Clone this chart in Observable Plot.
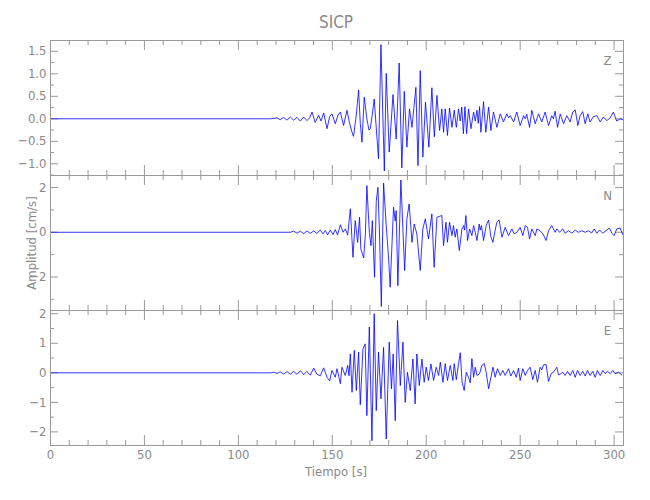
<!DOCTYPE html>
<html>
<head>
<meta charset="utf-8">
<script src="https://cdn.jsdelivr.net/npm/d3@7"></script>
<script src="https://cdn.jsdelivr.net/npm/@observablehq/plot@0.6"></script>
<style>
  html, body { margin: 0; padding: 0; background: #fff; }
  #chart { position: relative; width: 650px; height: 500px; font-family: "Liberation Sans Narrow", "DejaVu Sans Condensed", sans-serif; color: #8a8a8a; }
  .lbl { position: absolute; white-space: nowrap; }
</style>
</head>
<body>
<div id="chart"></div>
<script>
// ---------- data ----------
const stationName = "SICP";
const xTitle = "Tiempo [s]";
const yTitle = "Amplitud [cm/s]";
const componentNames = ["Z", "N", "E"];

const xMajorTicks = [0, 50, 100, 150, 200, 250, 300];
const xMinorTicks = [10, 20, 30, 40, 60, 70, 80, 90, 110, 120, 130, 140, 160, 170, 180, 190, 210, 220, 230, 240, 260, 270, 280, 290];

const zMajorTicks = [-1, -0.5, 0, 0.5, 1, 1.5];
const zMinorTicks = [-1.25, -0.75, -0.25, 0.25, 0.75, 1.25];
const nMajorTicks = [-2, 0, 2];
const nMinorTicks = [-3, -1, 1];
const eMajorTicks = [-2, -1, 0, 1, 2];
const eMinorTicks = [-1.5, -0.5, 0.5, 1.5];

const zTime = [0,117,120.6,122.3,124.1,125.9,127.7,129.4,131.2,133,134.8,136.5,137.9,139.2,140.9,142.7,144,145.4,147.2,148.6,149.8,151.6,153,154.3,156,157.8,159.2,160.5,161.3,162.8,164,164.9,165.8,167,168.4,169.5,170.2,171.3,172.3,173.4,174.6,175.9,177.7,178.7,180.3,182.3,184,185.6,187,188.3,189.7,191.1,192.4,194.5,195.6,196.8,198.2,199.6,201.4,203,204.3,205.7,207.1,208.3,209.2,210.1,211.3,212.4,213.7,214.9,216,217.2,218.1,218.9,219.8,220.6,221.5,222.5,223.8,225.2,226.1,227,227.7,228.4,229.1,230.5,231.7,233.2,234.4,235.8,237.6,239.4,241.1,242.9,243.8,244.7,246.5,248.2,250,251.8,252.7,253.5,255,256.2,258,259.8,261.5,263.3,265.1,266.8,267.7,268.6,269.9,271.3,273.1,274.8,276.6,278,279.3,280.7,281.9,283.3,284.6,286,287.2,289,290.8,292.6,294.3,296.1,297.9,299.6,301.4,303.2,304.6];
const zAmp = [0,0,0.02,-0.02,0.03,-0.03,0.04,-0.03,0.03,-0.05,0.04,-0.04,0.02,0.15,-0.08,0.08,-0.05,0.13,-0.22,0.05,0.11,-0.11,0.08,0.15,-0.15,0.19,-0.1,-0.3,-0.39,0.1,0.64,-0.1,-0.52,0.48,0,-0.25,-0.22,0.1,0.44,-0.2,-0.89,1.65,-1.16,1.01,-0.74,0.54,-0.45,1.24,-1.09,0.61,-0.63,0.22,-0.19,0.7,-1.04,1.07,-0.85,0.37,-0.63,0.69,-0.4,0.52,-0.26,0.22,-0.3,0.22,-0.37,0.24,-0.19,0.19,-0.19,0.22,-0.05,0.26,-0.33,0.27,-0.33,0.22,-0.22,0.15,-0.05,0.19,-0.1,0.27,-0.3,0.38,-0.3,0.26,-0.26,0.15,-0.19,0.11,-0.07,0.11,0.02,0.07,-0.07,0.15,-0.15,0.07,0,0.1,-0.19,0.19,-0.11,0.11,-0.07,0.15,-0.15,0.07,0,0.17,-0.19,0.11,-0.11,0.07,-0.07,0.15,0.2,-0.15,0.07,0.16,-0.11,0.11,-0.07,0.05,0.07,-0.07,0.04,-0.04,0.02,0.15,-0.05,0,-0.02];

const nTime = [0,127.7,129.4,131.2,133,134.8,136.5,138.3,140.1,141.8,143.6,145,146.3,147.5,148.9,150.4,151.6,152.8,154.3,155.7,156.9,158.2,159.6,161,162.2,163.5,164.5,165.2,166.7,167.6,168.4,169.7,170.6,171.3,172.5,173.4,174.3,175.2,176.1,177.3,178.7,180,180.8,182.6,183.5,184,184.9,186.5,188.5,189.7,190.9,192.4,193.6,195,196.8,198.2,199.5,201.2,203,204.2,205.7,208.3,209.2,210.5,211.3,212.4,213.7,214.5,215.4,216.3,217.6,219,219.9,220.4,221.1,222,223.1,224.3,225.2,226.1,227,228.2,228.7,229.4,230.5,231.9,233.2,234.4,235.5,236.7,237.6,238.8,240.3,242,243.8,245.6,246.8,248.2,250,251.4,252.7,253.9,255,256.2,258,258.9,260.6,262.1,263.8,265.1,266.8,268.6,269.5,270.9,272.7,273.9,275.7,277.5,279.3,281,282.8,284.6,286.3,288.1,289.4,290.8,292.2,294,295.7,297.5,298.8,300,301.4,303.2,304.6];
const nAmp = [0,0,0.05,-0.04,0.05,-0.06,0.06,-0.05,0.06,-0.05,0.1,-0.07,0.08,-0.12,0.1,-0.1,0.12,-0.12,0.34,0,0.15,-0.12,1.05,-1.12,0.52,-0.45,0.67,-0.75,-1.15,-0.1,2.09,0,-0.6,0.52,-2.01,1.39,2.01,-0.3,-3.32,2.2,0.3,-1.2,-2.46,1.12,0.5,0.97,-2.39,2.34,-1.71,0.6,1.27,-0.45,0.37,-0.07,-1.71,0.15,0.6,-0.3,0.82,-1.57,0.67,0.75,-0.6,0.45,-0.45,0.45,-0.15,0.3,-0.22,0.15,-0.82,0.15,0.3,0.1,0.75,-0.37,0.15,-0.15,0.3,0,-0.37,0.37,0.1,0.3,-0.37,0.3,0.55,-0.2,-0.45,0.1,0.45,0.55,-0.22,0.22,-0.15,0.15,-0.07,0,0.22,-0.15,0.3,0.22,-0.3,0.15,-0.15,0.15,0.07,-0.07,-0.37,0.07,0.3,0,0.15,0,0.15,-0.04,0.07,-0.04,0.1,0,0.07,0,0.07,-0.03,0.15,-0.04,0.1,-0.04,0.07,0.19,-0.04,-0.15,0.15,0.19,-0.1];

const eTime = [0,117,118.8,120.6,122.3,124.1,125.9,127.7,129.4,131.2,133,134.8,136.5,138.3,140.1,141.8,143.6,145.4,147.2,148.6,149.8,151.6,152.5,154.3,155.1,156.9,158.2,158.9,159.6,160.5,161.7,162.8,164,164.9,166.3,167.5,168.4,169.7,171.1,172.3,173.4,174.6,175.9,177.3,178.7,180.3,181.5,182.4,183.5,184.7,186.2,187.6,188.8,190,191.5,192.9,194.1,195,196.3,197.7,198.9,200,201.2,202.5,203.9,205.3,206.6,207.5,208.9,210.1,211.3,212.8,214.2,214.9,216,217.2,218.1,219.1,220.2,221.3,222.5,223.4,224.3,225.2,226.1,227,228.4,229.6,230.9,231.9,233.2,234.1,235.5,236.7,237.9,239.4,240.8,242,243.8,245,246.5,247.9,249.1,250,251.4,252.7,253.9,255.3,256.7,258,259.2,260.6,261.5,262.4,263.8,265.1,266.5,267.7,269.5,270.4,271.6,272.7,273.9,275.2,276.6,278,279.3,280.5,281.9,283.3,284.6,285.8,287.2,288.7,289.9,291.1,292.6,294,295.2,296.5,297.9,299.3,300.5,302.3,304.1];
const eAmp = [0,0,0.02,-0.02,0.03,-0.04,0.04,-0.05,0.05,-0.05,0.07,-0.06,0.05,-0.08,0.16,-0.05,-0.1,0.17,-0.15,-0.27,0.08,-0.15,0.14,-0.37,0.19,-0.09,0.25,-0.1,0.64,-0.66,0.76,-0.6,0.7,-1.08,0.81,0.98,-1.45,1.55,-2.3,2.0,-1.28,0.7,-0.88,0.86,-2.24,1.04,-0.54,0.64,-1.62,1.77,-0.43,1.04,-1.0,0.02,-0.6,0.47,-1.05,0.64,-0.43,0.47,-0.32,0.19,-0.26,0.3,-0.26,0.19,-0.09,0.36,-0.32,0.31,-0.26,0.25,-0.26,0.31,-0.23,0.31,0.68,-0.32,-0.6,0.02,-0.15,-0.34,0.48,-0.15,0.19,-0.09,-0.03,0.25,0.31,0.02,-0.54,-0.26,0.19,-0.15,0.14,-0.09,0.08,-0.09,0.14,-0.11,0.08,-0.15,0.16,-0.26,0.14,-0.09,0.08,0.19,-0.23,0.08,-0.32,0.19,0.1,0.27,0.28,-0.29,-0.03,0.02,0.19,-0.07,-0.03,0.02,-0.09,0.05,-0.09,0.08,-0.15,0.08,-0.09,0.05,-0.11,0.08,-0.09,0.05,-0.15,0.08,-0.09,0.08,-0.03,0.05,-0.03,0.08,-0.03,0.02,-0.07];

// ---------- drawing ----------
const frameColor = "#999";
const textColor = "#8a8a8a";
const fontFamily = '"Liberation Sans Narrow", "DejaVu Sans Condensed", sans-serif';
const W = 650, ML = 50, MR = 27, PH = 135;
const PW = W - ML - MR;

function panel({times, amps, domain, major, minor, fmt, name, bottom}) {
  const mt = 10, mb = bottom ? 30 : 10;
  const data = times.map((t, i) => ({t, v: amps[i]}));
  const tc = {stroke: frameColor, strokeWidth: 1};
  return Plot.plot({
    width: W, height: PH + mt + mb,
    marginLeft: ML, marginRight: MR, marginTop: mt, marginBottom: mb,
    style: {background: "transparent", overflow: "visible", fontFamily, fontSize: "13px", color: textColor},
    x: {domain: [0, 305]},
    y: {domain},
    marks: [
      Plot.tickX(xMajorTicks, {x: d => d, insetTop: PH - 10, ...tc}),
      Plot.tickX(xMajorTicks, {x: d => d, insetBottom: PH - 10, ...tc}),
      Plot.tickX(xMinorTicks, {x: d => d, insetTop: PH - 5, ...tc}),
      Plot.tickX(xMinorTicks, {x: d => d, insetBottom: PH - 5, ...tc}),
      Plot.tickY(major, {y: d => d, insetRight: PW - 8, ...tc}),
      Plot.tickY(major, {y: d => d, insetLeft: PW - 8, ...tc}),
      Plot.tickY(minor, {y: d => d, insetRight: PW - 4, ...tc}),
      Plot.tickY(minor, {y: d => d, insetLeft: PW - 4, ...tc}),
      Plot.axisY(major, {tickSize: 0, tickPadding: 4, tickFormat: fmt, label: null, fill: textColor}),
      bottom ? Plot.axisX(xMajorTicks, {tickSize: 0, tickPadding: 4, tickFormat: d3.format("d"), label: null, fill: textColor}) : Plot.axisX([], {label: null, tickSize: 0}),
      Plot.line(data, {x: "t", y: "v", stroke: "#0000ff", strokeWidth: 0.8}),
      Plot.frame({stroke: frameColor, strokeWidth: 1}),
      Plot.text([name], {frameAnchor: "top-right", text: d => d, dx: -16, dy: 15, textAnchor: "middle", fill: textColor, fontSize: 13})
    ]
  });
}

const chart = document.getElementById("chart");
const panels = [
  {times: zTime, amps: zAmp, domain: [-1.26, 1.74], major: zMajorTicks, minor: zMinorTicks, fmt: d3.format(".1f"), name: componentNames[0], top: 40},
  {times: nTime, amps: nAmp, domain: [-3.5, 2.54], major: nMajorTicks, minor: nMinorTicks, fmt: d3.format("d"), name: componentNames[1], top: 175},
  {times: eTime, amps: eAmp, domain: [-2.46, 2.11], major: eMajorTicks, minor: eMinorTicks, fmt: d3.format("d"), name: componentNames[2], top: 310, bottom: true}
];
for (const p of panels) {
  const svg = panel(p);
  svg.style.position = "absolute";
  svg.style.left = "0px";
  svg.style.top = (p.top - 10) + "px";
  chart.appendChild(svg);
}

function addLabel(text, css) {
  const d = document.createElement("div");
  d.className = "lbl";
  d.textContent = text;
  Object.assign(d.style, css);
  chart.appendChild(d);
}
addLabel(stationName, {left: "336px", top: "22px", transform: "translate(-50%, -50%)", fontSize: "17px"});
addLabel(xTitle, {left: "336px", top: "471px", transform: "translate(-50%, -50%)", fontSize: "13px"});
addLabel(yTitle, {left: "31px", top: "243px", transform: "translate(-50%, -50%) rotate(-90deg)", fontSize: "13px"});
</script>
</body>
</html>
